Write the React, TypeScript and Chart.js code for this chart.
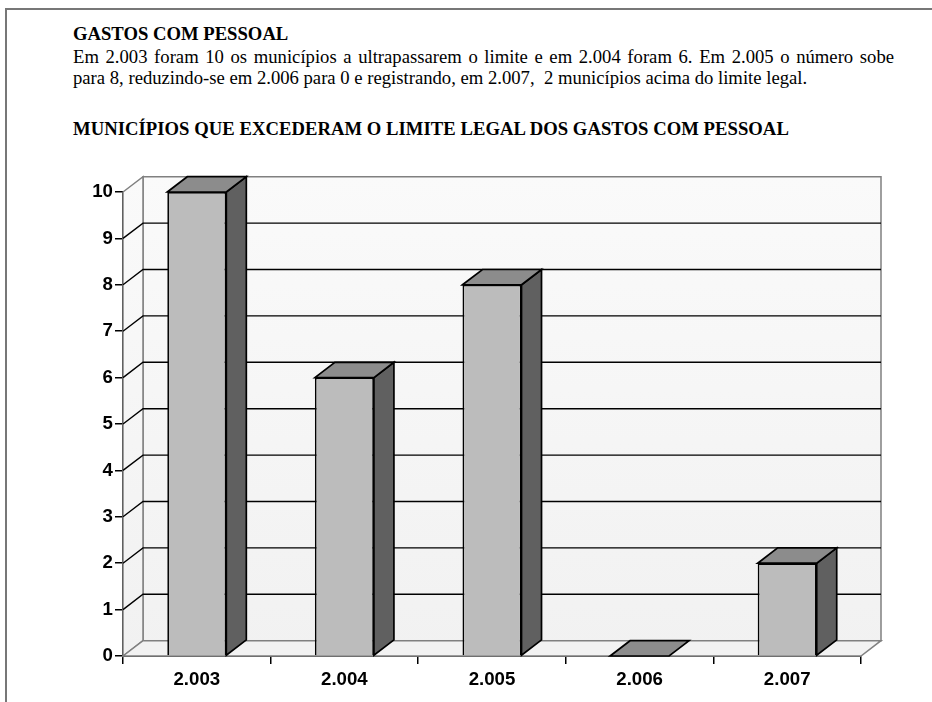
import React, { useEffect, useRef } from "react";
import { Chart, registerables } from "chart.js";

Chart.register(...registerables);

const categories = ["2.003", "2.004", "2.005", "2.006", "2.007"];
const municipios = [10, 6, 8, 0, 2];
const yTicks = [0, 1, 2, 3, 4, 5, 6, 7, 8, 9, 10];
const heading = "GASTOS COM PESSOAL";
const line1 = "Em 2.003 foram 10 os municípios a ultrapassarem o limite e em 2.004 foram 6. Em 2.005 o número sobe";
const line2 = "para 8, reduzindo-se em 2.006 para 0 e registrando, em 2.007,  2 municípios acima do limite legal.";
const chartTitle = "MUNICÍPIOS QUE EXCEDERAM O LIMITE LEGAL DOS GASTOS COM PESSOAL";

const DX = 20;
const DY = 15.3;

const poly = (ctx: CanvasRenderingContext2D, pts: number[][], fill: string | CanvasGradient | null, stroke: string | null, lw = 1.7) => {
  ctx.beginPath();
  pts.forEach(([x, y], i) => (i ? ctx.lineTo(x, y) : ctx.moveTo(x, y)));
  ctx.closePath();
  if (fill) { ctx.fillStyle = fill; ctx.fill(); }
  if (stroke) { ctx.strokeStyle = stroke; ctx.lineWidth = lw; ctx.lineJoin = "miter"; ctx.stroke(); }
};

const walls = {
  id: "walls3d",
  beforeDatasetsDraw(chart: any) {
    const ctx = chart.ctx as CanvasRenderingContext2D;
    const { left, right, top, bottom } = chart.chartArea;
    const grad = ctx.createLinearGradient(0, top - DY, 0, bottom);
    grad.addColorStop(0, "#fafafa");
    grad.addColorStop(1, "#f1f1f1");
    ctx.save();
    poly(ctx, [[left + DX, top - DY], [right + DX, top - DY], [right + DX, bottom - DY], [left + DX, bottom - DY]], grad, "#808080", 1.5);
    poly(ctx, [[left, top], [left + DX, top - DY], [left + DX, bottom - DY], [left, bottom]], grad, "#808080", 1.5);
    poly(ctx, [[left, bottom], [left + DX, bottom - DY], [right + DX, bottom - DY], [right, bottom]], "#f2f2f2", "#808080", 1.5);
    const y = chart.scales.y;
    ctx.strokeStyle = "#000";
    ctx.lineWidth = 1.4;
    yTicks.filter((v) => v > 0 && v < 10).forEach((v) => {
      const p = y.getPixelForValue(v);
      ctx.beginPath();
      ctx.moveTo(left, p);
      ctx.lineTo(left + DX, p - DY);
      ctx.lineTo(right + DX, p - DY);
      ctx.stroke();
    });
    ctx.restore();
  },
  afterDatasetsDraw(chart: any) {
    const ctx = chart.ctx as CanvasRenderingContext2D;
    ctx.save();
    chart.getDatasetMeta(0).data.forEach((bar: any) => {
      const { x, y, base, width } = bar.getProps(["x", "y", "base", "width"], true);
      const l = x - width / 2;
      const r = x + width / 2;
      if (base - y > 0.5) poly(ctx, [[r, y], [r + DX, y - DY], [r + DX, base - DY], [r, base]], "#606060", "#000");
      poly(ctx, [[l, y], [l + DX, y - DY], [r + DX, y - DY], [r, y]], "#8c8c8c", "#000");
    });
    ctx.restore();
  },
};

export default function App() {
  const ref = useRef<HTMLCanvasElement | null>(null);
  useEffect(() => {
    const chart = new Chart(ref.current as HTMLCanvasElement, {
      type: "bar",
      data: {
        labels: categories,
        datasets: [{
          data: municipios,
          backgroundColor: "#bcbcbc",
          borderColor: "#000",
          borderWidth: 1.7,
          barPercentage: 0.4,
          categoryPercentage: 1,
        }],
      },
      plugins: [walls],
      options: {
        animation: false,
        responsive: false,
        layout: { padding: { top: 192, right: 71, bottom: 0, left: 0 } },
        plugins: { legend: { display: false }, tooltip: { enabled: false } },
        scales: {
          x: {
            afterFit: (s: any) => { s.height = 46; },
            border: { color: "#000", width: 1.8 },
            grid: { drawOnChartArea: false, drawTicks: true, tickLength: 8, color: "#000", lineWidth: 1.5, offset: true },
            ticks: { color: "#000", font: { family: "'Liberation Sans'", size: 18.67, weight: "bold" }, padding: 5, maxRotation: 0 },
          },
          y: {
            min: 0,
            max: 10,
            afterFit: (s: any) => { s.width = 123; },
            border: { color: "#000", width: 1.8 },
            grid: { drawOnChartArea: false, drawTicks: true, tickLength: 8, color: "#000", lineWidth: 1.5 },
            ticks: { stepSize: 1, color: "#000", font: { family: "'Liberation Sans'", size: 18.67, weight: "bold" }, padding: 2 },
          },
        },
      } as any,
    });
    return () => chart.destroy();
  }, []);

  const text: React.CSSProperties = {
    position: "absolute",
    left: 73,
    width: 821,
    fontFamily: "'Liberation Serif', serif",
    fontSize: 18.67,
    lineHeight: "21px",
    color: "#000",
    whiteSpace: "pre-wrap",
  };
  return (
    <div style={{ position: "fixed", left: 0, top: 0, width: 932, height: 702, background: "#fff", overflow: "hidden" }}>
      <div style={{ position: "absolute", left: 5, top: 8, width: 927, height: 694, borderLeft: "2px solid #777", borderTop: "2px solid #777", boxSizing: "border-box" }} />
      <div style={{ ...text, top: 23, fontWeight: "bold" }}>{heading}</div>
      <div style={{ ...text, top: 46, whiteSpace: "normal", textAlign: "justify", textAlignLast: "justify" }}>{line1}</div>
      <div style={{ ...text, top: 67 }}>{line2}</div>
      <div style={{ ...text, top: 118, fontWeight: "bold", letterSpacing: "0.04px" }}>{chartTitle}</div>
      <canvas ref={ref} width={932} height={702} style={{ position: "absolute", left: 0, top: 0 }} />
    </div>
  );
}
